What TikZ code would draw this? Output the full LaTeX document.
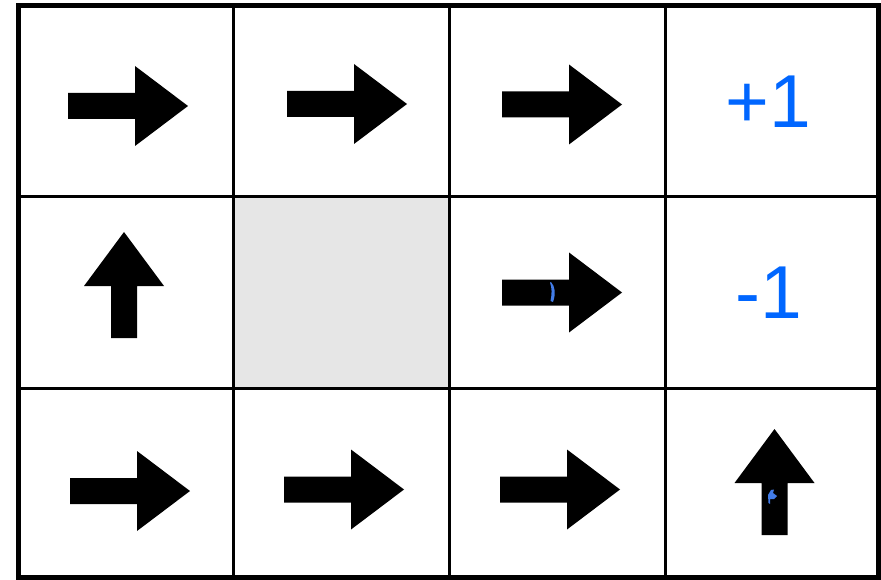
\documentclass[tikz,border=0pt]{standalone}
\usepackage{fontspec}
\setmainfont{Liberation Sans}
\definecolor{valblue}{RGB}{0,102,255}
\definecolor{markblue}{RGB}{66,124,232}
\definecolor{wallgray}{RGB}{230,230,230}
\tikzset{
  gridline/.style={line width=3pt, black},
  borderline/.style={line width=4.5pt, black},
  value/.style={text=valblue, inner sep=0pt, font=\fontsize{75}{75}\selectfont},
  pics/rarrow/.style={code={
    \fill[black] (0,-13) -- (67,-13) -- (67,-40) -- (120,0) -- (67,40) -- (67,13) -- (0,13) -- cycle;
  }},
  pics/uarrow/.style={code={
    \fill[black] (-13,0) -- (-13,-52) -- (-40,-52) -- (0,-106) -- (40,-52) -- (13,-52) -- (13,0) -- cycle;
  }},
}
\begin{document}
\begin{tikzpicture}[x=1pt,y=-1pt]
\useasboundingbox (0,0) rectangle (881,580);
% blocked cell
\fill[wallgray] (233.5,197) rectangle (449,388);
% inner grid lines
\draw[gridline] (233.5,5.5) -- (233.5,577.5);
\draw[gridline] (449,5.5) -- (449,577.5);
\draw[gridline] (665,5.5) -- (665,577.5);
\draw[gridline] (18.5,197) -- (878.5,197);
\draw[gridline] (18.5,388) -- (878.5,388);
% outer border
\draw[borderline] (18.5,5.5) rectangle (878.5,577.5);
% policy arrows
\pic at (68,106) {rarrow};
\pic at (287,104) {rarrow};
\pic at (502,104.5) {rarrow};
\pic at (502,292.5) {rarrow};
\pic at (70,491) {rarrow};
\pic at (284,489.5) {rarrow};
\pic at (500,489.5) {rarrow};
\pic at (124,338) {uarrow};
\pic at (774.5,535) {uarrow};
% small blue marks
\fill[markblue] (551,282) .. controls (555,286) and (556,294) .. (553,302) -- (550.5,301) .. controls (552,294) and (552,288) .. (550,282.5) -- cycle;
\fill[markblue] (768.5,503) -- (768,495) -- (771,490) -- (774,489.5) -- (773,493) -- (777,496) -- (774,499) -- (770,499) -- (770,504) -- cycle;
% terminal values
\node[value] (plus) at (768.5,101.5) {+1};
\node[value] (minus) at (769,292.5) {-1};
\end{tikzpicture}
\end{document}
